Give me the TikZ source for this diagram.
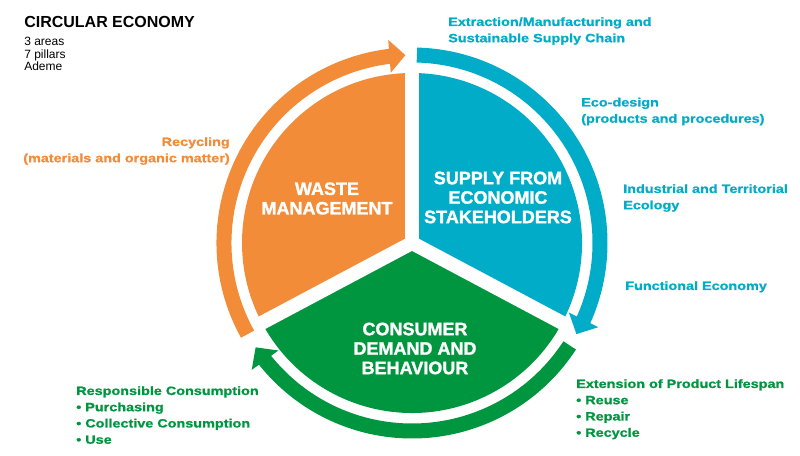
\documentclass[tikz,border=0pt]{standalone}
\usepackage{fontspec}
\setmainfont{Liberation Sans}
\newfontfamily\widesans[FakeStretch=1.2,FakeBold=1]{Liberation Sans Bold}
\newfontfamily\heavysans[FakeBold=1.5]{Liberation Sans Bold}
\usepackage{tikz}
\usetikzlibrary{arrows.meta,bending}

\definecolor{wasteorange}{RGB}{242,140,56}
\definecolor{supplyblue}{RGB}{0,172,200}
\definecolor{demandgreen}{RGB}{0,150,64}

\tikzset{
  ringarrow/.style={line width=11.25pt, -{Triangle[width=24pt,length=12pt]}},
  sectorgap/.style={white, line width=10.5pt},
  pillar/.style={font=\widesans\fontsize{9}{12.2}\selectfont, align=left, inner sep=0pt},
  area/.style={font=\heavysans\fontsize{13.5}{14.6}\selectfont, text=white, align=center, inner sep=0pt}
}

\begin{document}
\begin{tikzpicture}[x=0.75pt,y=0.75pt]
        \useasboundingbox (0,0) rectangle (800,456);
        \coordinate (hub) at (412,213);

        % the three areas
        \fill[wasteorange] (hub) -- ++(90:170) arc[start angle=90, end angle=208, radius=170] -- cycle;
        \fill[supplyblue] (hub) -- ++(-28:170) arc[start angle=-28, end angle=90, radius=170] -- cycle;
        \fill[demandgreen] (hub) -- ++(208:170) arc[start angle=208, end angle=332, radius=170] -- cycle;
        \draw[sectorgap] (hub) -- ++(90:172);
        \draw[sectorgap] (hub) -- ++(208:172);
        \draw[sectorgap] (hub) -- ++(-28:172);
        \fill[white] (hub) circle (6);

        % the ring of arrows
        \draw[ringarrow,wasteorange] (hub) ++(209:188) arc[start angle=209, end angle=92, radius=188];
        \draw[ringarrow,supplyblue] (hub) ++(88.5:188) arc[start angle=88.5, end angle=-29, radius=188];
        \draw[ringarrow,demandgreen] (hub) ++(-33:188) arc[start angle=-33, end angle=-146.3, radius=188];

        \node[area] (waste) at (327,257.5) {WASTE\\MANAGEMENT};
        \node[area] (supply) at (498,258.5) {SUPPLY FROM\\ECONOMIC\\STAKEHOLDERS};
        \node[area] (demand) at (415,107.5) {CONSUMER\\DEMAND AND\\BEHAVIOUR};

        \node[anchor=base west, inner sep=0pt, font=\bfseries\fontsize{12}{14}\selectfont] (title) at (24,428) {CIRCULAR ECONOMY};
        \node[anchor=north west, inner sep=0pt, align=left, font=\fontsize{9}{9.4}\selectfont] (subtitle) at (24,419) {3 areas\\7 pillars\\Ademe};

        \node[pillar, supplyblue, anchor=north west] (extraction) at (448,439) {Extraction/Manufacturing and\\Sustainable Supply Chain};
        \node[pillar, supplyblue, anchor=north west] (ecodesign) at (581,358.5) {Eco-design\\(products and procedures)};
        \node[pillar, supplyblue, anchor=north west] (ecology) at (623,272) {Industrial and Territorial\\Ecology};
        \node[pillar, supplyblue, anchor=north west] (functional) at (625,175) {Functional Economy};
        \node[pillar, wasteorange, anchor=north east, align=right] (recycling) at (230,319) {Recycling\\(materials and organic matter)};
        \node[pillar, demandgreen, anchor=north west] (consumption) at (76,70) {Responsible Consumption\\• Purchasing\\• Collective Consumption\\• Use};
        \node[pillar, demandgreen, anchor=north west] (lifespan) at (576,77) {Extension of Product Lifespan\\• Reuse\\• Repair\\• Recycle};
\end{tikzpicture}
\end{document}
